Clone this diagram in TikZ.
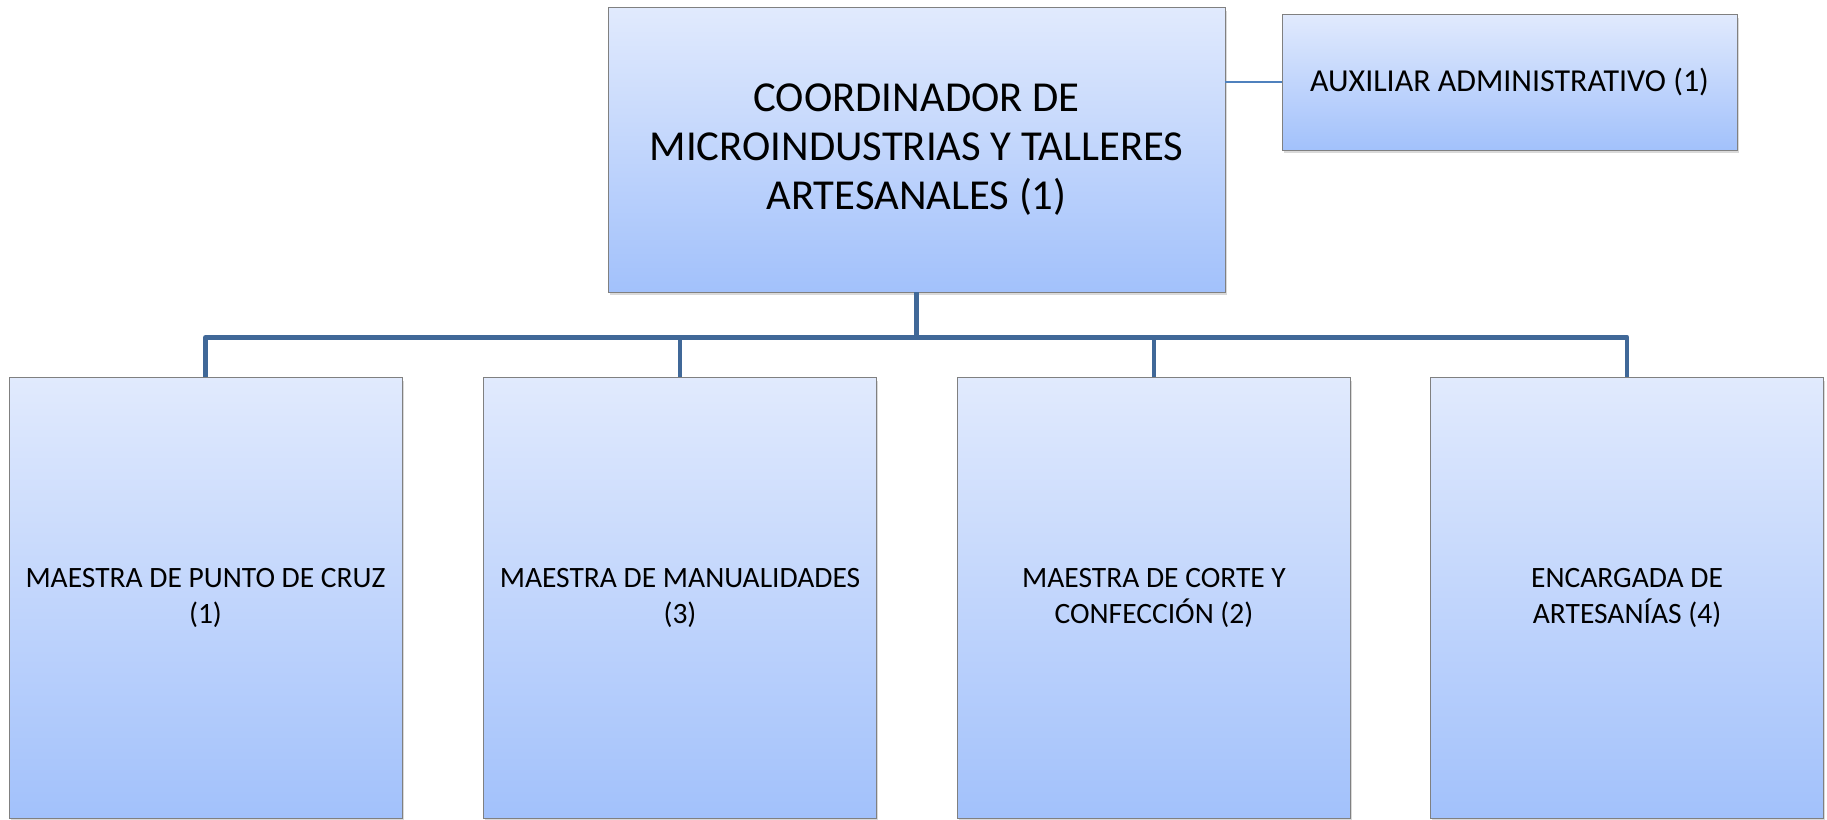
\documentclass[tikz,border=0pt]{standalone}
\usepackage{fontspec}
\setmainfont{Carlito}
\usetikzlibrary{shadows}

\definecolor{boxtop}{RGB}{225,234,253}
\definecolor{boxbot}{RGB}{162,193,251}
\definecolor{trunk}{RGB}{64,104,152}
\definecolor{twig}{RGB}{79,129,189}

\begin{document}
\begin{tikzpicture}[x=0.02cm,y=-0.02cm,
  box/.style={draw=black!50,line width=0.5pt,top color=boxtop,bottom color=boxbot,align=center,inner sep=4pt,
    drop shadow={shadow xshift=1pt,shadow yshift=-2pt,opacity=0.3}},
  staff/.style={box,minimum width=7.86cm,minimum height=8.82cm,font=\fontsize{16.8}{20.5}\selectfont},
  trunkline/.style={draw=trunk,line width=2.8pt,line join=round}]
\useasboundingbox (0,0) rectangle (1827,820);
\node[box,minimum width=12.34cm,minimum height=5.7cm,font=\fontsize{24.3}{27.7}\selectfont] (coord) at (916.5,149.5)
  {COORDINADOR DE\\MICROINDUSTRIAS Y TALLERES\\ARTESANALES (1)};
\node[box,minimum width=9.1cm,minimum height=2.72cm,font=\fontsize{18.2}{22}\selectfont] (aux) at (1509.5,82)
  {AUXILIAR ADMINISTRATIVO (1)};
\draw[twig,line width=0.85pt] (coord.east |- aux.west) -- (aux.west);
\path (coord.south) ++(0,45) coordinate (bus);
\foreach \x/\name/\txt in {205.5/punto/{MAESTRA DE PUNTO DE CRUZ\\(1)},
                           680/manual/{MAESTRA DE MANUALIDADES\\(3)},
                           1154/corte/{MAESTRA DE CORTE Y\\CONFECCIÓN (2)},
                           1627/artes/{ENCARGADA DE\\ARTESANÍAS (4)}}
  \node[staff] (\name) at (\x,597.5) {\txt};
\foreach \name in {punto,manual,corte,artes}
  \draw[trunkline] (coord.south) -- (bus) -| (\name.north);
\end{tikzpicture}
\end{document}
